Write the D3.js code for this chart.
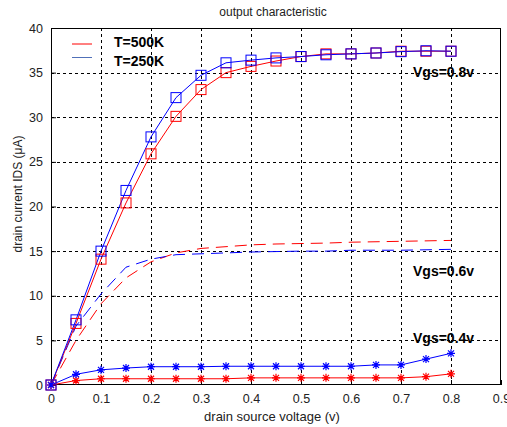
<!DOCTYPE html>
<html><head><meta charset="utf-8">
<script src="https://cdn.jsdelivr.net/npm/d3@7"></script>
<style>body{margin:0;background:#fff}svg{display:block}</style>
</head><body>
<script>
const vds = [0,0.05,0.1,0.15,0.2,0.25,0.3,0.35,0.4,0.45,0.5,0.55,0.6,0.65,0.7,0.75,0.8];
const hot08  = [0,6.9,14.1,20.4,25.9,30.1,33.1,35.0,35.7,36.3,36.8,37.1,37.1,37.2,37.4,37.4,37.4];
const cold08 = [0,7.3,15.0,21.8,27.8,32.2,34.7,36.1,36.4,36.65,36.8,37.0,37.1,37.2,37.35,37.45,37.4];
const hot06  = [0,5.0,9.1,12.0,13.8,14.8,15.3,15.5,15.7,15.8,15.85,15.9,16.0,16.05,16.1,16.15,16.2];
const cold06 = [0,6.6,10.2,13.2,14.1,14.6,14.7,14.8,14.9,14.95,15.0,15.0,15.1,15.1,15.1,15.15,15.2];
const hot04  = [0,0.5,0.7,0.7,0.7,0.7,0.7,0.7,0.8,0.8,0.8,0.8,0.8,0.8,0.8,0.93,1.25];
const cold04 = [0,1.2,1.7,1.9,2.05,2.05,2.05,2.1,2.1,2.1,2.1,2.1,2.1,2.25,2.25,2.9,3.55];
const xTicks = [0,0.1,0.2,0.3,0.4,0.5,0.6,0.7,0.8,0.9];
const yTicks = [0,5,10,15,20,25,30,35,40];
const legendLabels = ["T=500K","T=250K"];
const vgsLabels = ["Vgs=0.8v","Vgs=0.6v","Vgs=0.4v"];

const W=507,H=427, L=51, R=501, T=28, B=385;
const RED="#ff0000", BLUE="#0000ff";
const svg=d3.select("body").append("svg").attr("width",W).attr("height",H);
const x=d3.scaleLinear().domain([0,0.9]).range([L,R]);
const y=d3.scaleLinear().domain([0,40]).range([B,T]);

// grid
const g=svg.append("g");
g.selectAll(".vg").data(xTicks.filter(d=>d>0&&d<0.9)).join("line")
 .attr("x1",d=>Math.round(x(d))+0.5).attr("x2",d=>Math.round(x(d))+0.5).attr("y1",T).attr("y2",B)
 .attr("stroke","#000").attr("stroke-width",1).attr("stroke-dasharray","3,3");
g.selectAll(".hg").data(yTicks.filter(d=>d>0&&d<40)).join("line")
 .attr("y1",d=>Math.round(y(d))+0.5).attr("y2",d=>Math.round(y(d))+0.5).attr("x1",L).attr("x2",R)
 .attr("stroke","#000").attr("stroke-width",1).attr("stroke-dasharray","3,3");

// axes
const font="'Liberation Sans', Arial, sans-serif";
const xa=svg.append("g").attr("transform",`translate(0,${B})`).call(d3.axisBottom(x).tickValues(xTicks).tickSize(-5).tickPadding(9).tickFormat(d=>d===0?"0":d3.format(".1f")(d)));
const ya=svg.append("g").attr("transform",`translate(${L},0)`).call(d3.axisLeft(y).tickValues(yTicks).tickSize(-5).tickPadding(8));
[xa,ya].forEach(a=>{a.select(".domain").remove();a.selectAll("text").attr("font-family",font).attr("font-size","12.5px").attr("fill","#222");a.selectAll("line").attr("stroke","#000");});
// box
svg.append("rect").attr("x",L+0.5).attr("y",T+0.5).attr("width",R-L-1).attr("height",B-T-1).attr("fill","none").attr("stroke","#000");

// lines
const line=d3.line().x((d,i)=>x(vds[i])).y(d=>y(d));
function draw(data,color,dash){
  svg.append("path").datum(data).attr("d",line).attr("fill","none").attr("stroke",color).attr("stroke-width",1)
   .attr("stroke-dasharray",dash||null);
}
draw(hot06,RED,"12,7");
draw(cold06,BLUE,"12,7");
draw(hot04,RED);
draw(cold04,BLUE);
draw(hot08,RED);
draw(cold08,BLUE);

function squares(data,color){
  svg.append("g").selectAll("rect").data(data).join("rect")
   .attr("x",(d,i)=>x(vds[i])-5).attr("y",d=>y(d)-5).attr("width",10).attr("height",10)
   .attr("fill","none").attr("stroke",color).attr("stroke-width",1);
}
function stars(data,color){
  const s=4;
  const gg=svg.append("g").attr("stroke",color).attr("stroke-width",1.2);
  data.forEach((d,i)=>{
    const cx=x(vds[i]), cy=y(d);
    gg.append("path").attr("d",`M${cx-s},${cy}H${cx+s}M${cx},${cy-s}V${cy+s}M${cx-3},${cy-3}L${cx+3},${cy+3}M${cx-3},${cy+3}L${cx+3},${cy-3}`);
  });
}
stars(hot04,RED); stars(cold04,BLUE);
squares(hot08,RED); squares(cold08,BLUE);

// title & labels
svg.append("text").attr("x",(L+R)/2-3).attr("y",16).attr("text-anchor","middle").attr("font-family",font).attr("font-size","12px").attr("fill","#222").text("output characteristic");
svg.append("text").attr("x",272).attr("y",421).attr("text-anchor","middle").attr("font-family",font).attr("font-size","13px").attr("fill","#222").text("drain source voltage (v)");
svg.append("text").attr("transform",`translate(22,194) rotate(-90)`).attr("text-anchor","middle").attr("font-family",font).attr("font-size","12px").attr("fill","#222").text("drain current IDS  (μA)");

// legend
const bold="'Liberation Sans', Arial, sans-serif";
[[RED,44,47],[BLUE,57.5,66]].forEach(([c,ly,ty],i)=>{
  svg.append("line").attr("x1",72).attr("x2",92).attr("y1",ly).attr("y2",ly).attr("stroke",i?"#5070b8":c).attr("stroke-width",1);
  svg.append("text").attr("x",114).attr("y",ty).attr("font-family",bold).attr("font-weight","bold").attr("font-size","14px").attr("fill","#000").text(legendLabels[i]);
});
[77,276,343].forEach((yy,i)=>{
  svg.append("text").attr("x",413).attr("y",yy).attr("font-family",bold).attr("font-weight","bold").attr("font-size","14px").attr("fill","#000").text(vgsLabels[i]);
});
</script>
</body></html>
